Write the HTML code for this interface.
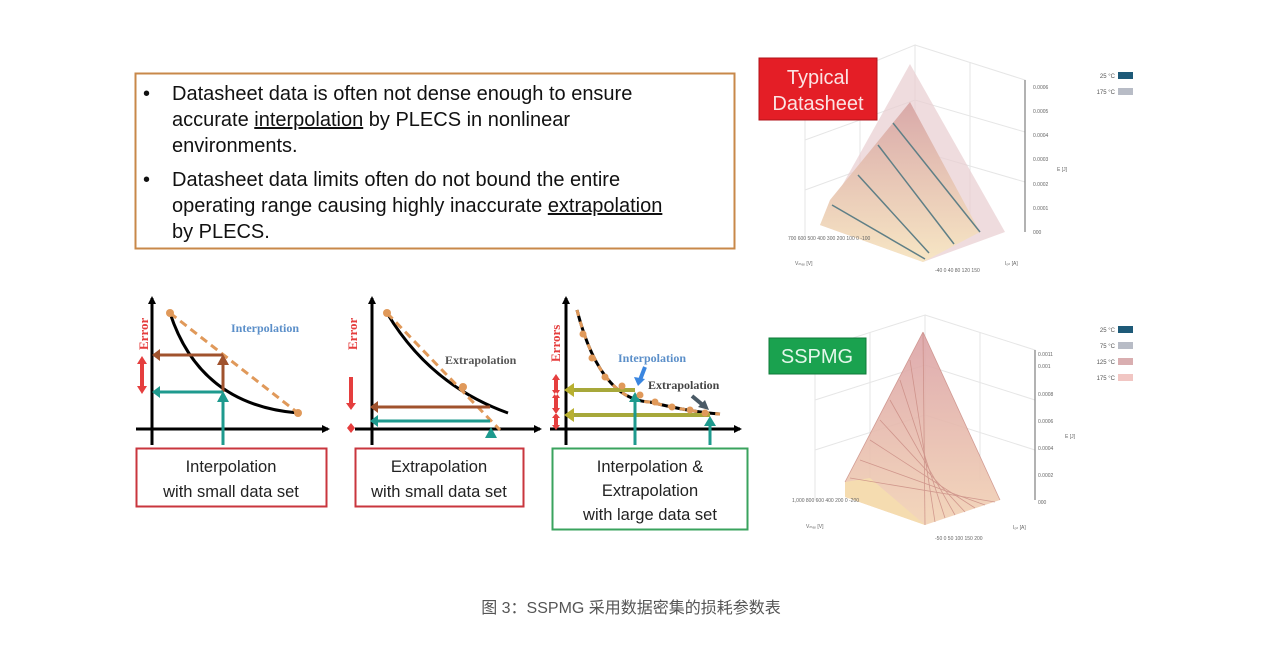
<!DOCTYPE html>
<html><head><meta charset="utf-8"><style>
html,body{margin:0;padding:0;background:#fff;}
svg{display:block}
text{font-family:"Liberation Sans","Noto Sans CJK SC",sans-serif}
.s{font-family:"Liberation Serif",serif;font-weight:bold}
</style></head><body>
<svg width="1280" height="654" viewBox="0 0 1280 654" xmlns="http://www.w3.org/2000/svg">
<defs>
<marker id="ak" markerWidth="8" markerHeight="8" refX="6" refY="4" orient="auto" markerUnits="userSpaceOnUse"><path d="M0,0 L8,4 L0,8z" fill="#000"/></marker>
<linearGradient id="g1" x1="0" y1="0" x2="0" y2="1"><stop offset="0" stop-color="#d9a9a9"/><stop offset="1" stop-color="#f7e6c4"/></linearGradient>
<linearGradient id="g2" x1="0" y1="0" x2="0" y2="1"><stop offset="0" stop-color="#dba2a6"/><stop offset="1" stop-color="#f2d2b4"/></linearGradient>
</defs>
<!-- text box -->
<rect x="135.5" y="73.5" width="599" height="175" fill="#fff" stroke="#c8884a" stroke-width="2"/>
<g font-size="20" fill="#111">
<text x="143" y="100">•</text>
<text x="172" y="100">Datasheet data is often not dense enough to ensure</text>
<text x="172" y="126">accurate <tspan text-decoration="underline">interpolation</tspan> by PLECS in nonlinear</text>
<text x="172" y="152">environments.</text>
<text x="143" y="186">•</text>
<text x="172" y="186">Datasheet data limits often do not bound the entire</text>
<text x="172" y="212">operating range causing highly inaccurate <tspan text-decoration="underline">extrapolation</tspan></text>
<text x="172" y="238">by PLECS.</text>
</g>

<!-- chart 1 -->
<g stroke-width="3">
<line x1="152" y1="445" x2="152" y2="298" stroke="#000" marker-end="url(#ak)"/>
<line x1="136" y1="429" x2="328" y2="429" stroke="#000" marker-end="url(#ak)"/>
<path d="M170,313 Q200,405 298,413" fill="none" stroke="#000"/>
<line x1="170" y1="313" x2="298" y2="413" stroke="#e0995a" stroke-dasharray="8,5"/>
<path d="M223,392 L223,362 M223,355 L160,355" stroke="#a0522d" fill="none"/>
<path d="M223,445 L223,398 M223,392 L160,392" stroke="#1e9a8e" fill="none"/>
</g>
<path d="M217,365 L223,354 L229,365z M160,349 L152,355 L160,361z" fill="#a0522d"/>
<path d="M217,402 L223,391 L229,402z M160,386 L152,392 L160,398z" fill="#1e9a8e"/>
<circle cx="170" cy="313" r="4" fill="#e0995a"/><circle cx="298" cy="413" r="4" fill="#e0995a"/>
<line x1="142" y1="362" x2="142" y2="388" stroke="#e53e3e" stroke-width="4"/>
<path d="M137,364 L142,356 L147,364z M137,386 L142,394 L147,386z" fill="#e53e3e"/>
<text class="s" x="148" y="350" transform="rotate(-90 148 350)" font-size="13" fill="#e53e3e">Error</text>
<text class="s" x="231" y="332" font-size="12" fill="#5b8fc9">Interpolation</text>

<!-- chart 2 -->
<g stroke-width="3">
<line x1="372" y1="445" x2="372" y2="298" stroke="#000" marker-end="url(#ak)"/>
<line x1="355" y1="429" x2="540" y2="429" stroke="#000" marker-end="url(#ak)"/>
<path d="M387,313 Q430,385 508,413" fill="none" stroke="#000"/>
<line x1="387" y1="313" x2="500" y2="430" stroke="#e0995a" stroke-dasharray="8,5"/>
<path d="M490,407 L378,407" stroke="#a0522d"/>
<path d="M490,421 L378,421" stroke="#1e9a8e"/>
</g>
<path d="M378,401 L370,407 L378,413z" fill="#a0522d"/><path d="M378,415 L370,421 L378,427z" fill="#1e9a8e"/>
<path d="M485,438 L491,427 L497,438z" fill="#1e9a8e"/>
<circle cx="387" cy="313" r="4" fill="#e0995a"/><circle cx="463" cy="387" r="4" fill="#e0995a"/>
<line x1="351" y1="377" x2="351" y2="405" stroke="#e53e3e" stroke-width="4"/>
<path d="M346,403 L351,410 L356,403z M347,428 L351,423 L355,428 L351,433z" fill="#e53e3e"/>
<text class="s" x="357" y="350" transform="rotate(-90 357 350)" font-size="13" fill="#e53e3e">Error</text>
<text class="s" x="445" y="364" font-size="12" fill="#555">Extrapolation</text>

<!-- chart 3 -->
<g stroke-width="3">
<line x1="566" y1="445" x2="566" y2="298" stroke="#000" marker-end="url(#ak)"/>
<line x1="550" y1="429" x2="740" y2="429" stroke="#000" marker-end="url(#ak)"/>
<path d="M577,310 Q600,400 650,402 Q690,412 720,414" fill="none" stroke="#000"/>
<path d="M577,310 Q600,400 650,402 Q690,412 720,414" fill="none" stroke="#e0995a" stroke-dasharray="6,6"/>
<path d="M635,390 L572,390" stroke="#a7a83a" stroke-width="4"/>
<path d="M710,415 L572,415" stroke="#a7a83a" stroke-width="4"/>
<path d="M635,445 L635,400 M710,445 L710,424" stroke="#1e9a8e"/>
</g>
<path d="M574,383 L564,390 L574,397z M574,408 L564,415 L574,422z" fill="#b8b030"/>
<path d="M629,402 L635,392 L641,402z M704,426 L710,416 L716,426z" fill="#1e9a8e"/>
<g fill="#e0995a"><circle cx="583" cy="334" r="3.5"/><circle cx="592" cy="358" r="3.5"/><circle cx="605" cy="377" r="3.5"/><circle cx="622" cy="386" r="3.5"/><circle cx="640" cy="395" r="3.5"/><circle cx="655" cy="402" r="3.5"/><circle cx="672" cy="407" r="3.5"/><circle cx="690" cy="410" r="3.5"/><circle cx="705" cy="413" r="3.5"/></g>
<g stroke="#e53e3e" stroke-width="4"><line x1="556" y1="378" x2="556" y2="392"/><line x1="556" y1="396" x2="556" y2="410"/><line x1="556" y1="416" x2="556" y2="426"/></g>
<g fill="#e53e3e"><path d="M552,380 L556,374 L560,380z M552,390 L556,396 L560,390z M552,398 L556,392 L560,398z M552,408 L556,414 L560,408z M552,418 L556,413 L560,418z M552,425 L556,430 L560,425z"/></g>
<text class="s" x="560" y="362" transform="rotate(-90 560 362)" font-size="13" fill="#e53e3e">Errors</text>
<text class="s" x="618" y="362" font-size="12" fill="#5b8fc9">Interpolation</text>
<path d="M645,367 L640,380" stroke="#3a86e0" stroke-width="4"/><path d="M634,377 L638,386 L645,379z" fill="#3a86e0"/>
<text class="s" x="648" y="389" font-size="12" fill="#444">Extrapolation</text>
<path d="M692,396 L704,406" stroke="#4a5a66" stroke-width="4"/><path d="M698,407 L709,410 L705,400z" fill="#4a5a66"/>

<!-- label boxes -->
<rect x="136.5" y="448.5" width="190" height="58" fill="#fff" stroke="#c9363e" stroke-width="2"/>
<text x="231" y="472" text-anchor="middle" font-size="16.5" fill="#222">Interpolation</text>
<text x="231" y="497" text-anchor="middle" font-size="16.5" fill="#222">with small data set</text>
<rect x="355.5" y="448.5" width="168" height="58" fill="#fff" stroke="#c9363e" stroke-width="2"/>
<text x="439" y="472" text-anchor="middle" font-size="16.5" fill="#222">Extrapolation</text>
<text x="439" y="497" text-anchor="middle" font-size="16.5" fill="#222">with small data set</text>
<rect x="552.5" y="448.5" width="195" height="81" fill="#fff" stroke="#3aa35e" stroke-width="2"/>
<text x="650" y="472" text-anchor="middle" font-size="16.5" fill="#222">Interpolation &amp;</text>
<text x="650" y="496" text-anchor="middle" font-size="16.5" fill="#222">Extrapolation</text>
<text x="650" y="520" text-anchor="middle" font-size="16.5" fill="#222">with large data set</text>

<!-- 3D plot 1 -->
<g stroke="#e6e6e6" fill="none">
<path d="M805,240 L805,90 L915,45 L915,200 M915,45 L1025,80 L1025,232 M805,140 L915,100 L1025,132 M805,190 L915,150 L1025,182 M860,68 L860,220 M970,62 L970,215"/>
</g>
<line x1="1025" y1="80" x2="1025" y2="232" stroke="#666"/>
<path d="M910,64 L820,225 L923,262 L1005,232z" fill="#e8cdd0" opacity="0.7"/>
<path d="M910,102 L830,200 L820,225 L923,262 L980,232z" fill="url(#g1)"/>
<g stroke="#5f7f86" stroke-width="1.5"><line x1="893" y1="123" x2="980" y2="232"/><line x1="878" y1="145" x2="954" y2="244"/><line x1="858" y1="175" x2="929" y2="253"/><line x1="832" y1="205" x2="925" y2="259"/></g>
<g font-size="5" fill="#666"><text x="1033" y="89">0.0006</text><text x="1033" y="113">0.0005</text><text x="1033" y="137">0.0004</text><text x="1033" y="161">0.0003</text><text x="1033" y="186">0.0002</text><text x="1033" y="210">0.0001</text><text x="1033" y="234">000</text><text x="1057" y="171">E [J]</text><text x="795" y="265">Vₘₐₓ [V]</text><text x="1005" y="265">Iₒₙ [A]</text><text x="788" y="240">700 600 500 400 300 200 100 0 -100</text><text x="935" y="272">-40 0 40 80 120 150</text></g>
<rect x="759" y="58" width="118" height="62" fill="#e41e26" stroke="#b01218"/>
<text x="818" y="84" text-anchor="middle" font-size="20" fill="#fbe3e3">Typical</text>
<text x="818" y="110" text-anchor="middle" font-size="20" fill="#fbe3e3">Datasheet</text>
<text x="1115" y="78" text-anchor="end" font-size="6" fill="#555">25 °C</text><rect x="1118" y="72" width="15" height="7" fill="#1e5a78"/>
<text x="1115" y="94" text-anchor="end" font-size="6" fill="#555">175 °C</text><rect x="1118" y="88" width="15" height="7" fill="#b8bcc6"/>

<!-- 3D plot 2 -->
<g stroke="#e6e6e6" fill="none">
<path d="M815,500 L815,350 L925,315 L925,460 M925,315 L1035,350 L1035,500 M815,400 L925,365 L1035,400 M815,450 L925,415 L1035,450 M870,332 L870,480 M980,332 L980,480"/>
</g>
<line x1="1035" y1="350" x2="1035" y2="500" stroke="#666"/>
<path d="M923,332 L845,482 L845,497 L925,525 L1000,500z" fill="url(#g2)" opacity="0.9"/>
<path d="M845,482 L870,478 L925,525 L845,497z" fill="#f5dcb0"/>
<g stroke="#c98a82" stroke-width="0.8" opacity="0.8">
<line x1="923" y1="332" x2="925" y2="525"/><line x1="910" y1="360" x2="935" y2="522"/><line x1="900" y1="380" x2="945" y2="518"/><line x1="890" y1="400" x2="955" y2="515"/><line x1="880" y1="420" x2="965" y2="512"/><line x1="870" y1="440" x2="975" y2="508"/><line x1="860" y1="460" x2="985" y2="505"/><line x1="850" y1="478" x2="995" y2="502"/>
<line x1="923" y1="332" x2="1000" y2="500"/><line x1="923" y1="332" x2="845" y2="482"/>
</g>
<g font-size="5" fill="#666"><text x="1038" y="356">0.0011</text><text x="1038" y="368">0.001</text><text x="1038" y="396">0.0008</text><text x="1038" y="423">0.0006</text><text x="1038" y="450">0.0004</text><text x="1038" y="477">0.0002</text><text x="1038" y="504">000</text><text x="1065" y="438">E [J]</text><text x="806" y="528">Vₘₐₓ [V]</text><text x="1013" y="529">Iₒₙ [A]</text><text x="792" y="502">1,000 800 600 400 200 0 -200</text><text x="935" y="540">-50 0 50 100 150 200</text></g>
<rect x="769" y="338" width="97" height="36" fill="#1aa24f" stroke="#0f7a3a"/>
<text x="817" y="363" text-anchor="middle" font-size="20" fill="#e3f7ea">SSPMG</text>
<text x="1115" y="332" text-anchor="end" font-size="6" fill="#555">25 °C</text><rect x="1118" y="326" width="15" height="7" fill="#1e5a78"/>
<text x="1115" y="348" text-anchor="end" font-size="6" fill="#555">75 °C</text><rect x="1118" y="342" width="15" height="7" fill="#b8bcc6"/>
<text x="1115" y="364" text-anchor="end" font-size="6" fill="#555">125 °C</text><rect x="1118" y="358" width="15" height="7" fill="#d9aeb0"/>
<text x="1115" y="380" text-anchor="end" font-size="6" fill="#555">175 °C</text><rect x="1118" y="374" width="15" height="7" fill="#f1c6c3"/>

<!-- caption -->
<text x="631" y="613" text-anchor="middle" font-size="16" fill="#555">图 3：SSPMG 采用数据密集的损耗参数表</text>
</svg>
</body></html>
